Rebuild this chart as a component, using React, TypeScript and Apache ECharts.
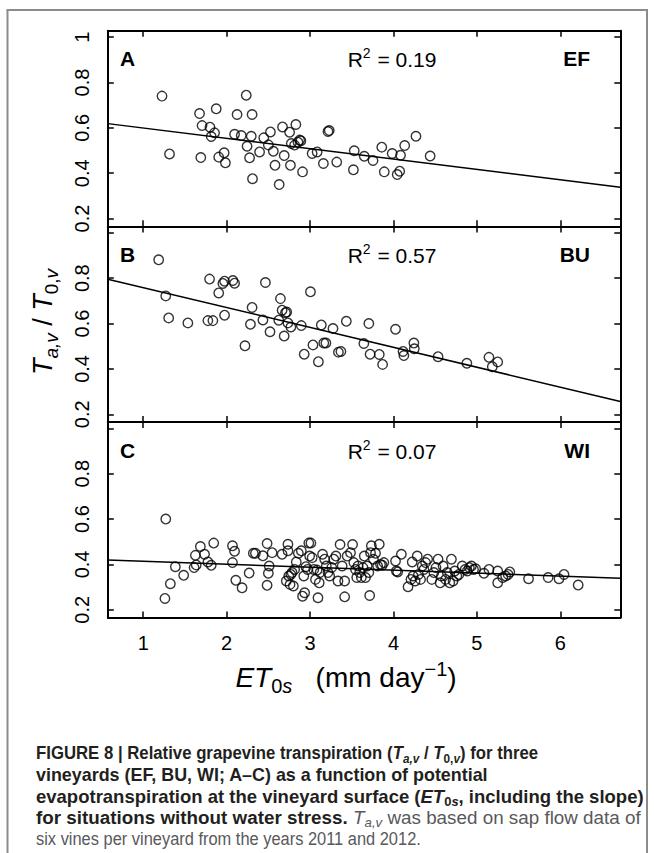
import React, { useEffect, useRef } from "react";
import * as echarts from "echarts";

// ---------- data ----------
const X_MIN = 0.575;
const X_MAX = 6.72;
const Y_MIN = 0.166;
const Y_MAX = 1.028;
const xTickValues = [1, 2, 3, 4, 5, 6];
const yTickValues = [0.2, 0.4, 0.6, 0.8, 1];
const yLabelsTop = [0.2, 0.4, 0.6, 0.8, 1];
const yLabelsLower = [0.2, 0.4, 0.6, 0.8];

const panelLetters = ["A", "B", "C"];
const vineyardCodes = ["EF", "BU", "WI"];
const rSquared = ["0.19", "0.57", "0.07"];

// regression lines: [intercept, slope]
const efFit = [0.645, -0.0457];
const buFit = [0.846, -0.0877];
const wiFit = [0.4276, -0.0132];

const efPoints = [
  [1.225, 0.74], [1.315, 0.485], [1.675, 0.663], [1.69, 0.469], [1.705, 0.61],
  [1.8, 0.603], [1.815, 0.562], [1.855, 0.578], [1.875, 0.684], [1.905, 0.471],
  [1.97, 0.49], [1.985, 0.446], [2.095, 0.572], [2.125, 0.659], [2.175, 0.566],
  [2.235, 0.744], [2.245, 0.519], [2.275, 0.468], [2.295, 0.563], [2.305, 0.659],
  [2.31, 0.376], [2.395, 0.494], [2.445, 0.556], [2.5, 0.525], [2.525, 0.582],
  [2.56, 0.497], [2.58, 0.435], [2.63, 0.35], [2.67, 0.604], [2.69, 0.478],
  [2.755, 0.581], [2.765, 0.435], [2.775, 0.531], [2.815, 0.524], [2.83, 0.615],
  [2.855, 0.537], [2.875, 0.546], [2.89, 0.543], [2.91, 0.406], [3.025, 0.487],
  [3.085, 0.494], [3.16, 0.443], [3.215, 0.584], [3.23, 0.588], [3.32, 0.449],
  [3.52, 0.415], [3.53, 0.499], [3.65, 0.475], [3.755, 0.456], [3.86, 0.515],
  [3.89, 0.406], [3.985, 0.487], [4.045, 0.394], [4.075, 0.409], [4.085, 0.479],
  [4.135, 0.522], [4.27, 0.563], [4.44, 0.476],
];

const buPoints = [
  [1.185, 0.881], [1.27, 0.722], [1.305, 0.625], [1.535, 0.603], [1.775, 0.613],
  [1.835, 0.613], [1.795, 0.796], [1.905, 0.735], [1.955, 0.777], [1.975, 0.787],
  [1.975, 0.637], [2.075, 0.79], [2.095, 0.778], [2.22, 0.502], [2.285, 0.597],
  [2.305, 0.671], [2.435, 0.616], [2.465, 0.781], [2.52, 0.564], [2.625, 0.615],
  [2.645, 0.71], [2.665, 0.659], [2.69, 0.545], [2.705, 0.648], [2.72, 0.651],
  [2.735, 0.603], [2.77, 0.585], [2.895, 0.591], [2.93, 0.465], [3.005, 0.74],
  [3.035, 0.506], [3.1, 0.432], [3.135, 0.594], [3.165, 0.514], [3.19, 0.514],
  [3.275, 0.578], [3.34, 0.474], [3.37, 0.477], [3.435, 0.61], [3.645, 0.512],
  [3.705, 0.6], [3.72, 0.465], [3.83, 0.464], [3.87, 0.42], [4.025, 0.575],
  [4.115, 0.477], [4.125, 0.459], [4.245, 0.514], [4.25, 0.489], [4.535, 0.454],
  [4.88, 0.425], [5.145, 0.451], [5.185, 0.41], [5.25, 0.431],
];

const wiPoints = [
  [1.27, 0.6], [1.26, 0.25], [1.325, 0.315], [1.385, 0.39], [1.485, 0.352],
  [1.61, 0.386], [1.625, 0.44], [1.635, 0.398], [1.685, 0.479], [1.735, 0.445],
  [1.775, 0.411], [1.815, 0.396], [1.845, 0.494], [2.07, 0.482], [2.07, 0.408],
  [2.095, 0.458], [2.11, 0.33], [2.185, 0.297], [2.27, 0.362], [2.32, 0.449],
  [2.345, 0.449], [2.435, 0.438], [2.485, 0.492], [2.485, 0.308], [2.51, 0.393],
  [2.5, 0.361], [2.545, 0.452], [2.665, 0.445], [2.715, 0.327], [2.735, 0.489],
  [2.735, 0.46], [2.745, 0.349], [2.76, 0.312], [2.77, 0.356], [2.785, 0.364],
  [2.8, 0.305], [2.815, 0.378], [2.835, 0.411], [2.86, 0.449], [2.895, 0.46],
  [2.91, 0.26], [2.935, 0.275], [2.925, 0.349], [2.95, 0.39], [2.97, 0.378],
  [2.985, 0.494], [3.01, 0.494], [3.025, 0.43], [2.995, 0.437], [3.045, 0.378],
  [3.065, 0.334], [3.085, 0.375], [3.095, 0.253], [3.11, 0.319], [3.12, 0.364],
  [3.15, 0.445], [3.175, 0.423], [3.195, 0.393], [3.215, 0.364], [3.235, 0.349],
  [3.26, 0.386], [3.285, 0.423], [3.31, 0.437], [3.335, 0.327], [3.36, 0.488],
  [3.385, 0.393], [3.415, 0.327], [3.415, 0.257], [3.445, 0.437], [3.485, 0.452],
  [3.51, 0.488], [3.525, 0.408], [3.545, 0.378], [3.56, 0.342], [3.575, 0.393],
  [3.595, 0.364], [3.615, 0.342], [3.635, 0.386], [3.65, 0.437], [3.665, 0.342],
  [3.685, 0.393], [3.705, 0.364], [3.715, 0.263], [3.725, 0.452], [3.735, 0.482],
  [3.76, 0.423], [3.785, 0.449], [3.81, 0.393], [3.83, 0.489], [3.845, 0.4],
  [3.865, 0.396], [3.885, 0.408], [4.025, 0.415], [4.035, 0.371], [4.05, 0.367],
  [4.095, 0.445], [4.175, 0.302], [4.21, 0.334], [4.225, 0.411], [4.235, 0.349],
  [4.26, 0.327], [4.285, 0.437], [4.3, 0.356], [4.325, 0.334], [4.345, 0.393],
  [4.365, 0.378], [4.385, 0.408], [4.41, 0.423], [4.46, 0.334], [4.485, 0.364],
  [4.51, 0.386], [4.535, 0.423], [4.56, 0.319], [4.575, 0.349], [4.595, 0.393],
  [4.625, 0.334], [4.645, 0.364], [4.675, 0.319], [4.695, 0.423], [4.715, 0.327],
  [4.735, 0.371], [4.76, 0.349], [4.785, 0.356], [4.825, 0.393], [4.86, 0.378],
  [4.885, 0.371], [4.91, 0.386], [4.935, 0.393], [4.96, 0.378], [4.985, 0.381],
  [5.085, 0.361], [5.145, 0.378], [5.25, 0.319], [5.25, 0.371], [5.31, 0.342],
  [5.345, 0.349], [5.375, 0.356], [5.395, 0.367], [5.62, 0.337], [5.855, 0.342],
  [5.985, 0.337], [6.045, 0.356], [6.215, 0.309],
];

const panelPoints = [efPoints, buPoints, wiPoints];
const panelFits = [efFit, buFit, wiFit];

// ---------- layout ----------
const FONT = "'Liberation Sans', Arial, Helvetica, sans-serif";
const GRID_LEFT = 107.8;
const GRID_WIDTH = 512.5;
const GRID_TOPS = [30.8, 226.5, 422];
const GRID_HEIGHT = 195.5;

function buildOption() {
  const grid: any[] = [];
  const xAxis: any[] = [];
  const yAxis: any[] = [];
  const series: any[] = [];
  const graphic: any[] = [];

  const axisLine = { show: true, onZero: false, lineStyle: { color: "#000", width: 2 } };
  const tickStyle = { color: "#000", width: 1.5 };

  for (let i = 0; i < 3; i++) {
    grid.push({ left: GRID_LEFT, top: GRID_TOPS[i], width: GRID_WIDTH, height: GRID_HEIGHT, containLabel: false });
    ["bottom", "top"].forEach((pos) => {
      xAxis.push({
        gridIndex: i,
        type: "value",
        position: pos,
        min: X_MIN,
        max: X_MAX,
        axisLine,
        splitLine: { show: false },
        axisTick: { show: true, inside: true, length: 6, lineStyle: tickStyle, customValues: xTickValues },
        axisLabel: {
          show: i === 2 && pos === "bottom",
          customValues: xTickValues,
          fontFamily: FONT,
          fontSize: 20,
          color: "#000",
          margin: 15,
        },
      });
    });
    ["left", "right"].forEach((pos) => {
      yAxis.push({
        gridIndex: i,
        type: "value",
        position: pos,
        min: Y_MIN,
        max: Y_MAX,
        axisLine,
        splitLine: { show: false },
        axisTick: { show: true, inside: true, length: 6, lineStyle: tickStyle, customValues: yTickValues },
        axisLabel: {
          show: pos === "left",
          customValues: i === 0 ? yLabelsTop : yLabelsLower,
          rotate: 90,
          fontFamily: FONT,
          fontSize: 20,
          color: "#000",
          margin: 16,
          formatter: (v: number) => (v === 1 ? "1" : v.toFixed(1)),
        },
      });
    });

    series.push({
      type: "scatter",
      xAxisIndex: i * 2,
      yAxisIndex: i * 2,
      data: panelPoints[i],
      symbol: "circle",
      symbolSize: 9.5,
      itemStyle: { color: "rgba(255,255,255,0)", borderColor: "#000", borderWidth: 1.4 },
      silent: true,
    });
    const [a, b] = panelFits[i];
    series.push({
      type: "line",
      xAxisIndex: i * 2,
      yAxisIndex: i * 2,
      data: [
        [X_MIN, a + b * X_MIN],
        [X_MAX, a + b * X_MAX],
      ],
      showSymbol: false,
      symbol: "none",
      lineStyle: { color: "#000", width: 1.5 },
      silent: true,
    });

    const ly = GRID_TOPS[i] + 28;
    graphic.push({
      type: "text",
      x: 120,
      y: ly,
      style: { text: panelLetters[i], font: `bold 21px ${FONT}`, fill: "#000", align: "left", verticalAlign: "middle" },
    });
    graphic.push({
      type: "text",
      x: 590,
      y: ly,
      style: { text: vineyardCodes[i], font: `bold 21px ${FONT}`, fill: "#000", align: "right", verticalAlign: "middle" },
    });
    graphic.push({
      type: "text",
      x: 392,
      y: ly + 1,
      style: {
        text: `{n|R}{sup|2}{n| = ${rSquared[i]}}`,
        align: "center",
        verticalAlign: "middle",
        rich: {
          n: { fontFamily: FONT, fontSize: 21, fill: "#000" },
          sup: { fontFamily: FONT, fontSize: 14, fill: "#000", padding: [0, 1, 13, 0] },
        },
      },
    });
  }

  // frame
  const frameStyle = { stroke: "#8c8c8c", lineWidth: 2 };
  graphic.push({ type: "line", shape: { x1: 6.5, y1: 10, x2: 648, y2: 10 }, style: frameStyle });
  graphic.push({ type: "line", shape: { x1: 7.5, y1: 10, x2: 7.5, y2: 853 }, style: frameStyle });
  graphic.push({ type: "line", shape: { x1: 647, y1: 10, x2: 647, y2: 853 }, style: frameStyle });

  // y axis title
  graphic.push({
    type: "text",
    x: 43,
    y: 322,
    rotation: Math.PI / 2,
    style: {
      text: "{it|T}{si|a,v}{n| / }{it|T}{su|0,}{si|v}",
      align: "center",
      verticalAlign: "middle",
      rich: {
        it: { fontFamily: FONT, fontSize: 27, fontStyle: "italic", fill: "#000" },
        n: { fontFamily: FONT, fontSize: 27, fill: "#000" },
        si: { fontFamily: FONT, fontSize: 19, fontStyle: "italic", fill: "#000", padding: [16, 0, 0, 0] },
        su: { fontFamily: FONT, fontSize: 19, fill: "#000", padding: [16, 0, 0, 0] },
      },
    },
  });

  // x axis title
  graphic.push({
    type: "text",
    x: 346,
    y: 677,
    style: {
      text: "{it|ET}{su|0}{si|s}{n|   (mm day}{sp|\u22121}{n|)}",
      align: "center",
      verticalAlign: "middle",
      rich: {
        it: { fontFamily: FONT, fontSize: 28, fontStyle: "italic", fill: "#000" },
        n: { fontFamily: FONT, fontSize: 28, fill: "#000" },
        su: { fontFamily: FONT, fontSize: 20, fill: "#000", padding: [17, 0, 0, 0] },
        si: { fontFamily: FONT, fontSize: 20, fontStyle: "italic", fill: "#000", padding: [17, 0, 0, 0] },
        sp: { fontFamily: FONT, fontSize: 20, fill: "#000", padding: [0, 0, 16, 0] },
      },
    },
  });

  // caption
  const CF = 18.5;
  const CS = 13;
  const dark = "#231f20";
  const gray = "#58595b";
  const capRich = {
    b: { fontFamily: FONT, fontSize: CF, fontWeight: "bold", fill: dark },
    bi: { fontFamily: FONT, fontSize: CF, fontWeight: "bold", fontStyle: "italic", fill: dark },
    bs: { fontFamily: FONT, fontSize: CS, fontWeight: "bold", fill: dark, padding: [11, 0, 0, 0] },
    bsi: { fontFamily: FONT, fontSize: CS, fontWeight: "bold", fontStyle: "italic", fill: dark, padding: [11, 0, 0, 0] },
    r: { fontFamily: FONT, fontSize: CF, fill: gray },
    ri: { fontFamily: FONT, fontSize: CF, fontStyle: "italic", fill: gray },
    rsi: { fontFamily: FONT, fontSize: CS, fontStyle: "italic", fill: gray, padding: [11, 0, 0, 0] },
  };
  const captionLines = [
    "{b|FIGURE 8 | Relative grapevine transpiration (}{bi|T}{bsi|a,v}{b| / }{bi|T}{bs|0,}{bsi|v}{b|) for three}",
    "{b|vineyards (EF, BU, WI; A\u2013C) as a function of potential}",
    "{b|evapotranspiration at the vineyard surface (}{bi|ET}{bs|0}{bsi|s}{b|, including the slope)}",
    "{b|for situations without water stress.}{r| }{ri|T}{rsi|a,v}{r| was based on sap flow data of}",
    "{r|six vines per vineyard from the years 2011 and 2012.}",
  ];
  const captionY = [753, 774.5, 796, 817.5, 839];
  const captionScale = [0.906, 0.968, 1.0, 1.018, 0.888];
  captionLines.forEach((t, k) => {
    graphic.push({
      type: "text",
      x: 36,
      y: captionY[k],
      scaleX: captionScale[k],
      style: { text: t, align: "left", verticalAlign: "middle", rich: capRich },
    });
  });

  return {
    animation: false,
    backgroundColor: "#fff",
    grid,
    xAxis,
    yAxis,
    series,
    graphic,
  };
}

export default function App() {
  const ref = useRef<HTMLDivElement>(null);
  useEffect(() => {
    document.body.style.margin = "0";
    if (!ref.current) return;
    const chart = echarts.init(ref.current, undefined, { renderer: "svg", width: 654, height: 853 });
    chart.setOption(buildOption() as any);
    return () => chart.dispose();
  }, []);
  return <div ref={ref} style={{ width: 654, height: 853, position: "absolute", left: 0, top: 0 }} />;
}
